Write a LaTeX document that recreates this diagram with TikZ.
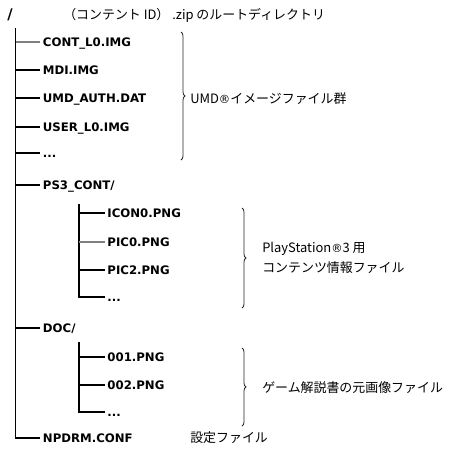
\documentclass[tikz,border=0pt]{standalone}
\usepackage{fontspec}
\setmainfont{DejaVu Sans}
\newfontfamily\jpfont{Noto Sans CJK JP}
\newfontfamily\regfont{DejaVu Sans}
\newcommand{\regmark}{{\regfont\fontsize{8.5}{10}\selectfont ®}}
\usetikzlibrary{decorations.pathreplacing}
\begin{document}
\begin{tikzpicture}[x=0.75pt,y=-0.75pt,
  file/.style={anchor=base west, inner xsep=2pt, inner ysep=0pt, font=\fontsize{8.8}{10}\selectfont\bfseries},
  jp/.style={anchor=base west, inner sep=0pt, font=\fontsize{9.7}{12}\selectfont\jpfont},
  br/.style={line width=0.8pt, black},
  lbr/.style={line width=0.8pt, black!50},
  brc/.style={line width=0.6pt, black!85, decorate, decoration={brace, amplitude=3pt}}]
\useasboundingbox (0,0) rectangle (459,455);

% root and title
\node[file, inner xsep=0pt, font=\fontsize{11}{12}\selectfont\bfseries] (root) at (7,19) {/};
\node[jp] (title) at (63,19) {（コンテント ID） .zip のルートディレクトリ};

% main trunk coordinates
\coordinate (t0) at (15.5,28);
\coordinate (t1) at (15.5,42);
\coordinate (t2) at (15.5,70);
\coordinate (t3) at (15.5,98);
\coordinate (t4) at (15.5,127);
\coordinate (t5) at (15.5,153);
\coordinate (t6) at (15.5,185);
\coordinate (t7) at (15.5,328);
\coordinate (t8) at (15.5,438);

% top level files
\node[file] (cont) at (40,46) {CONT\_L0.IMG};
\node[file] (mdi) at (40,74) {MDI.IMG};
\node[file] (umd) at (40,102) {UMD\_AUTH.DAT};
\node[file] (user) at (40,131) {USER\_L0.IMG};
\node[file] (dots1) at (40,157) {...};
\node[file] (ps3) at (40,189) {PS3\_CONT/};
\node[file] (doc) at (40,332) {DOC/};
\node[file] (npdrm) at (40,442) {NPDRM.CONF};

\draw[br] (t0) -- (t8) -- (t8 -| npdrm.west);
\draw[lbr] (t1) -- (t1 -| cont.west);
\draw[br] (t2) -- (t2 -| mdi.west);
\draw[br] (t3) -- (t3 -| umd.west);
\draw[br] (t4) -- (t4 -| user.west);
\draw[br] (t5) -- (t5 -| dots1.west);
\draw[br] (t6) -- (t6 -| ps3.west);
\draw[br] (t7) -- (t7 -| doc.west);

% PS3_CONT subtree
\coordinate (p0) at (79,204);
\coordinate (p1) at (79,213);
\coordinate (p2) at (79,242);
\coordinate (p3) at (79,270);
\coordinate (p4) at (79,297);
\node[file] (icon) at (104.5,217) {ICON0.PNG};
\node[file] (pic0) at (104.5,246) {PIC0.PNG};
\node[file] (pic2) at (104.5,274) {PIC2.PNG};
\node[file] (dots2) at (104.5,301) {...};
\draw[br] (p0) -- (p4) -- (p4 -| dots2.west);
\draw[br] (p1) -- (p1 -| icon.west);
\draw[lbr] (p2) -- (p2 -| pic0.west);
\draw[br] (p3) -- (p3 -| pic2.west);

% DOC subtree
\coordinate (d0) at (79,342);
\coordinate (d1) at (79,357);
\coordinate (d2) at (79,385);
\coordinate (d3) at (79,412);
\node[file] (f001) at (104.5,361) {001.PNG};
\node[file] (f002) at (104.5,389) {002.PNG};
\node[file] (dots3) at (104.5,416) {...};
\draw[br] (d0) -- (d3) -- (d3 -| dots3.west);
\draw[br] (d1) -- (d1 -| f001.west);
\draw[br] (d2) -- (d2 -| f002.west);

% braces
\coordinate (b1t) at (181,32);
\coordinate (b1b) at (181,160);
\coordinate (b2t) at (242,208);
\coordinate (b2b) at (242,308);
\coordinate (b3t) at (242,348);
\coordinate (b3b) at (242,426);
\draw[brc] (b1t) -- (b1b);
\draw[brc] (b2t) -- (b2b);
\draw[brc] (b3t) -- (b3b);

% labels
\node[jp] (lab1) at (190,103) {UMD\regmark イメージファイル群};
\node[jp] (lab2a) at (262,252) {PlayStation\regmark 3 用};
\node[jp] (lab2b) at (262,272) {コンテンツ情報ファイル};
\node[jp] (lab3) at (262,392) {ゲーム解説書の元画像ファイル};
\node[jp] (lab4) at (190,442) {設定ファイル};
\end{tikzpicture}
\end{document}
